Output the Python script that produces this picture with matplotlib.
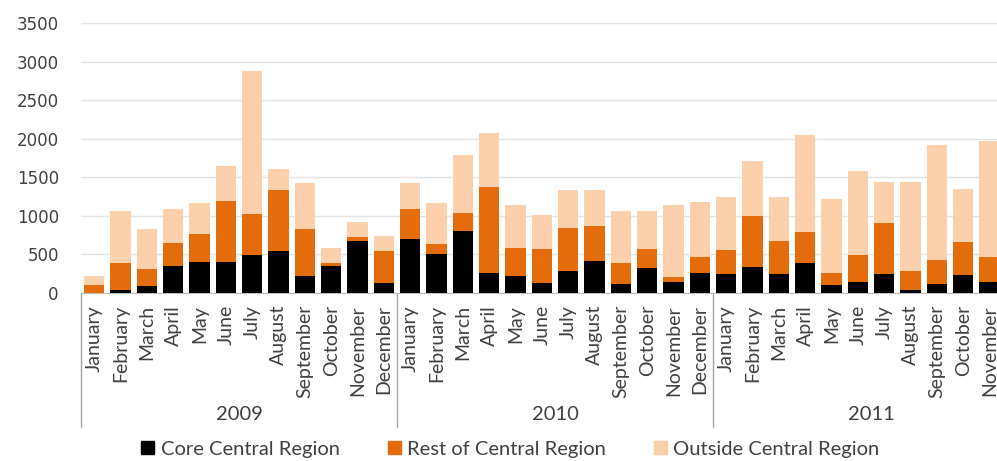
import numpy as np
import matplotlib
matplotlib.use('Agg')
import matplotlib.pyplot as plt
from matplotlib.patches import Patch

months = ['January', 'February', 'March', 'April', 'May', 'June', 'July',
          'August', 'September', 'October', 'November', 'December']
years = ['2009', '2010', '2011']
labels = months * 2 + months[:11]

core = [0, 35, 80, 340, 400, 400, 490, 535, 210, 345, 675, 120,
        695, 500, 805, 250, 210, 120, 285, 405, 110, 315, 140, 255,
        240, 335, 240, 390, 95, 140, 240, 35, 110, 225, 140]
rest = [100, 350, 220, 300, 355, 785, 530, 795, 620, 45, 50, 415,
        385, 125, 235, 1125, 370, 445, 560, 460, 280, 250, 65, 210,
        315, 660, 430, 400, 160, 350, 665, 250, 310, 430, 325]
outside = [110, 680, 530, 440, 415, 455, 1860, 275, 590, 190, 190, 205,
           350, 545, 750, 705, 560, 440, 485, 465, 675, 500, 935, 715,
           690, 715, 570, 1260, 955, 1090, 530, 1150, 1500, 690, 1510]

c_core = '#000000'
c_rest = '#E46C0A'
c_out = '#FBD0AA'

fig = plt.figure(figsize=(9.97, 4.61), dpi=100)
# axes runs past the right edge, like the cropped original
ax = fig.add_axes([81/997, 168.5/461, 948/997, 269.2/461])

x = np.arange(len(core))
core = np.array(core)
rest = np.array(rest)
outside = np.array(outside)
w = 0.76
ax.bar(x, core, w, color=c_core, zorder=3)
ax.bar(x, rest, w, bottom=core, color=c_rest, zorder=3)
ax.bar(x, outside, w, bottom=core + rest, color=c_out, zorder=3)

ax.set_xlim(-0.5, 35.5)
ax.set_ylim(0, 3500)
ax.set_yticks(np.arange(0, 3501, 500))
ax.grid(axis='y', color='#e3e3e3', lw=1, zorder=0)
for s in ['top', 'right', 'left']:
    ax.spines[s].set_visible(False)
ax.spines['bottom'].set_color('#bfbfbf')
ax.tick_params(axis='y', length=0, pad=16, labelsize=12, labelcolor='#404040')
ax.set_xticks(x)
ax.set_xticklabels(labels, rotation=90, fontsize=14, family='Lato',
                   color='#404040', va='top', ha='center')
ax.tick_params(axis='x', length=0, pad=9)

trans = ax.get_xaxis_transform()
for b in [-0.5, 11.5, 23.5, 35.5]:
    ax.plot([b, b], [0, -0.5], transform=trans, color='#a6a6a6', lw=1,
            clip_on=False)
for i, y in enumerate(years):
    ax.text(5.5 + 12 * i, -0.455, y, transform=trans, ha='center', va='center',
            fontsize=14.5, family='Lato', color='#404040')

handles = [Patch(color=c_core), Patch(color=c_rest), Patch(color=c_out)]
fig.legend(handles, ['Core Central Region', 'Rest of Central Region',
                     'Outside Central Region'],
           loc='center', bbox_to_anchor=(0.512, 0.026), ncol=3, frameon=False,
           handlelength=0.65, handleheight=0.65, handletextpad=0.3,
           columnspacing=2.4, prop={'family': 'Lato', 'size': 14.5})
for t in fig.legends[0].get_texts():
    t.set_color('#404040')

fig.savefig('out.png', dpi=100)
